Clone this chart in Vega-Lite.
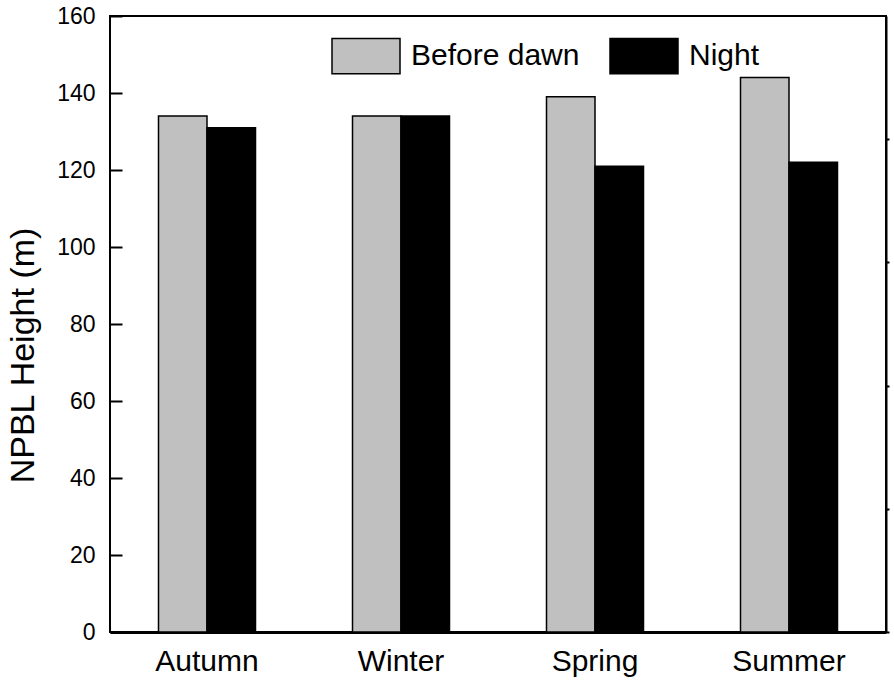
{
  "$schema": "https://vega.github.io/schema/vega-lite/v6.json",
  "width": 776,
  "height": 616,
  "autosize": {"type": "none"},
  "padding": {"left": 110, "top": 16, "right": 8, "bottom": 50},
  "background": "white",
  "config": {
    "font": "Liberation Sans",
    "view": {"stroke": "black", "strokeWidth": 2},
    "axis": {"grid": false, "labelColor": "black", "titleColor": "black", "domainColor": "black", "tickColor": "black", "labelFont": "Liberation Sans", "titleFont": "Liberation Sans"}
  },
  "data": {
    "values": [
      {"season": "Autumn", "period": "Before dawn", "height": 134},
      {"season": "Autumn", "period": "Night", "height": 131},
      {"season": "Winter", "period": "Before dawn", "height": 134},
      {"season": "Winter", "period": "Night", "height": 134},
      {"season": "Spring", "period": "Before dawn", "height": 139},
      {"season": "Spring", "period": "Night", "height": 121},
      {"season": "Summer", "period": "Before dawn", "height": 144},
      {"season": "Summer", "period": "Night", "height": 122}
    ]
  },
  "encoding": {
    "x": {
      "field": "season",
      "type": "nominal",
      "sort": ["Autumn", "Winter", "Spring", "Summer"],
      "scale": {"paddingInner": 0.5, "paddingOuter": 0.25},
      "axis": {"title": null, "labelAngle": 0, "labelFontSize": 30, "labelPadding": 14, "ticks": false, "domainWidth": 3}
    },
    "y": {
      "field": "height",
      "type": "quantitative",
      "scale": {"domain": [0, 160], "nice": false}
    }
  },
  "layer": [
    {
      "mark": {"type": "bar", "stroke": "black", "strokeWidth": 1.5},
      "encoding": {
        "xOffset": {"field": "period", "type": "nominal", "sort": ["Before dawn", "Night"]},
        "y": {
          "field": "height",
          "type": "quantitative",
          "scale": {"domain": [0, 160], "nice": false},
          "axis": {"title": "NPBL Height (m)", "titleFontSize": 34, "titleFontWeight": "normal", "titleAngle": 270, "titleX": -99, "titleY": 339, "titleAlign": "center", "titleBaseline": "middle", "labelFontSize": 23, "labelPadding": 15, "values": [0, 20, 40, 60, 80, 100, 120, 140, 160], "offset": -12, "tickSize": 12, "tickWidth": 2, "domain": false}
        },
        "color": {
          "field": "period",
          "type": "nominal",
          "sort": ["Before dawn", "Night"],
          "scale": {"domain": ["Before dawn", "Night"], "range": ["#c0c0c0", "#000000"]},
          "legend": {
            "title": null,
            "orient": "none",
            "direction": "horizontal",
            "legendX": 221,
            "legendY": 5,
            "symbolType": "M-1,-0.52H1V0.52H-1Z",
            "symbolSize": 4624,
            "symbolStrokeColor": "black",
            "symbolStrokeWidth": 1.5,
            "symbolOpacity": 1,
            "labelFontSize": 30,
            "labelColor": "black",
            "labelOffset": 10,
            "labelLimit": 0,
            "columnPadding": 27
          }
        }
      }
    },
    {
      "mark": {"type": "tick", "opacity": 0},
      "encoding": {
        "y": {
          "field": "height",
          "type": "quantitative",
          "scale": {"domain": [0, 160], "nice": false},
          "axis": {"orient": "right", "title": null, "labels": false, "values": [0, 32, 64, 96, 128], "tickSize": 3, "tickWidth": 2, "domainWidth": 2}
        }
      }
    }
  ],
  "resolve": {"axis": {"y": "independent"}}
}
